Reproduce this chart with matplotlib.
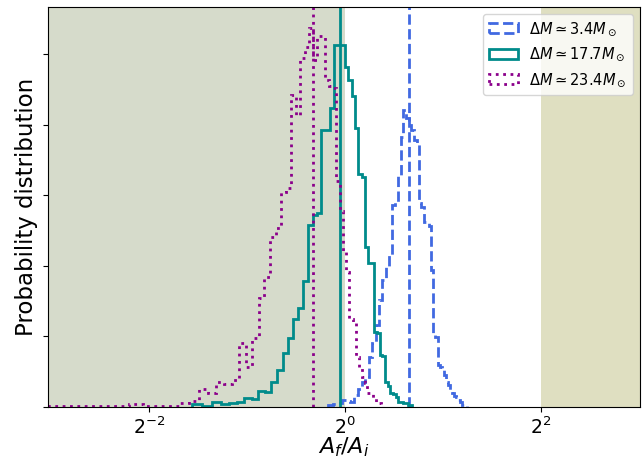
import numpy as np
import matplotlib
matplotlib.use("Agg")
import matplotlib.pyplot as plt

# Binned probability densities of A_f/A_i for three mass-loss cases.
# Each case: (lowest edge, highest edge) of equal-width linear bins, and bin densities.
range_low = (0.889, 2.369)
dens_low = [0.014, 0.021, 0.028, 0.050, 0.042, 0.035, 0.085, 0.127, 0.177, 0.212,
            0.354, 0.453, 0.581, 0.758, 0.899, 0.992, 1.076, 1.431, 1.452, 1.643,
            1.912, 2.103, 2.047, 1.997, 1.962, 1.891, 1.870, 1.445, 1.416, 1.310,
            1.303, 1.282, 0.970, 0.510, 0.496, 0.297, 0.283, 0.276, 0.227, 0.177,
            0.156, 0.120, 0.099, 0.078, 0.071, 0.050, 0.035, 0.014, 0.014, 0.011]

range_mid = (0.339, 1.607)
dens_mid = [0.019, 0.009, 0.038, 0.021, 0.030, 0.038, 0.066, 0.057, 0.115, 0.106,
            0.179, 0.264, 0.380, 0.491, 0.623, 0.703, 0.894, 1.289, 1.360, 1.374,
            1.962, 1.962, 2.120, 2.564, 2.564, 2.564, 2.410, 2.316, 2.205, 1.978,
            1.650, 1.629, 1.133, 1.020, 1.020, 0.531, 0.524, 0.368, 0.361, 0.177,
            0.149, 0.099, 0.092, 0.071, 0.035, 0.035, 0.028, 0.028, 0.014, 0.014]

range_high = (0.100, 1.3116)
dens_high = [0.009, 0.009, 0.009, 0.009, 0.009, 0.019, 0.009, 0.009, 0.009, 0.030,
             0.039, 0.125, 0.097, 0.174, 0.161, 0.191, 0.455, 0.285, 0.487, 0.770,
             0.923, 1.204, 1.266, 1.525, 1.551, 2.210, 2.068, 2.472, 2.550, 2.684,
             2.458, 2.627, 2.627, 2.316, 2.274, 2.259, 1.600, 1.388, 1.105, 0.956,
             0.623, 0.595, 0.354, 0.276, 0.212, 0.170, 0.099, 0.099, 0.064, 0.038,
             0.028, 0.018]

# Median of each distribution
medians = [1.573, 0.968, 0.799]

labels = [r"$\Delta M \simeq 3.4M_\odot$",
          r"$\Delta M \simeq 17.7M_\odot$",
          r"$\Delta M \simeq 23.4M_\odot$"]
colors = ["royalblue", "darkcyan", "darkmagenta"]
styles = ["--", "-", ":"]

x_limits = (2 ** -3.03, 2 ** 3.01)
x_ticks = [0.25, 1.0, 4.0]
y_ticks = [0.0, 0.5, 1.0, 1.5, 2.0, 2.5]
y_top = 2.833

fig = plt.figure(figsize=(6.44, 4.59), dpi=100)
ax = fig.add_axes([48 / 644, 1 - 407 / 459, 592 / 644, 400 / 459])
ax.set_xscale("log", base=2)

# excluded regions
ax.axvspan(x_limits[0], 1.0, color="#d6dbcb", lw=0, zorder=0)
ax.axvspan(4.0, x_limits[1], color="#dfdfc1", lw=0, zorder=0)

for rng, dens, med, lab, col, ls in zip(
        [range_low, range_mid, range_high],
        [dens_low, dens_mid, dens_high],
        medians, labels, colors, styles):
    dens = np.asarray(dens)
    edges = np.linspace(rng[0], rng[1], len(dens) + 1)
    centers = 0.5 * (edges[:-1] + edges[1:])
    ax.hist(centers, bins=edges, weights=dens, histtype="step",
            color=col, linestyle=ls, linewidth=2, label=lab)
    ax.axvline(med, color=col, linestyle=ls, linewidth=2)

ax.set_xlim(*x_limits)
ax.set_ylim(0, y_top)
ax.set_xticks(x_ticks)
ax.set_yticks(y_ticks)
ax.tick_params(axis="y", labelleft=False)
ax.tick_params(axis="x", labelsize=13.5, pad=3)
ax.minorticks_off()

ax.set_xlabel(r"$A_f/A_i$", fontsize=16, labelpad=-1.5)
ax.set_ylabel("Probability distribution", fontsize=16.5)
ax.legend(loc="upper right", fontsize=10.5)

fig.savefig("out.png", dpi=100)
